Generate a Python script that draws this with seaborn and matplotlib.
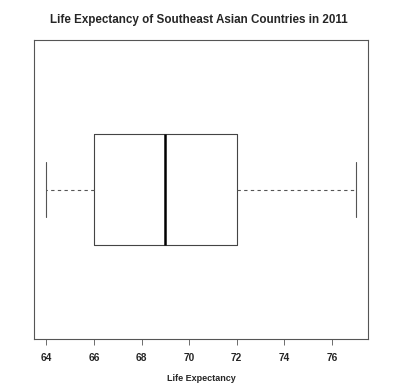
import matplotlib
matplotlib.use("Agg")
import matplotlib.pyplot as plt
import seaborn as sns
import pandas as pd

# Life expectancy values (years) - gives min 64, Q1 66, median 69, Q3 72, max 77
life_expectancy = [64, 65, 66, 68, 69, 70, 72, 74, 77]
x_ticks = [64, 66, 68, 70, 72, 74, 76]

df = pd.DataFrame({"Life Expectancy": life_expectancy})

sns.set_style("white")
plt.rcParams["font.family"] = ["Liberation Sans", "DejaVu Sans"]

fig = plt.figure(figsize=(3.97, 3.90), dpi=100)
ax = fig.add_axes([34 / 397, 51 / 390, 334 / 397, 299 / 390])

sns.boxplot(
    data=df, x="Life Expectancy", orient="h", width=0.4, ax=ax,
    fill=False, color="black", linewidth=0.8,
    whis=1.5,
    whiskerprops=dict(linestyle=(0, (3, 3)), color="#555555", linewidth=0.8),
    capprops=dict(color="#555555", linewidth=0.8),
    boxprops=dict(color="#444444", linewidth=0.8),
    medianprops=dict(color="black", linewidth=1.8),
    showfliers=False,
)

ax.set_xlim(63.48, 77.52)
ax.set_ylim(0.54, -0.54)
ax.set_yticks([])
ax.set_xticks(x_ticks)
ax.set_xticklabels([str(t) for t in x_ticks], fontsize=7.3, fontweight="bold")
ax.tick_params(axis="x", direction="out", length=4, width=0.6, color="#555555", pad=6, bottom=True)
for s in ax.spines.values():
    s.set_color("#555555")
    s.set_linewidth(0.8)

ax.set_xlabel("Life Expectancy", fontsize=6.5, fontweight="bold", labelpad=8)
ax.set_ylabel("")
fig.suptitle("Life Expectancy of Southeast Asian Countries in 2011",
             fontsize=8.4, fontweight="bold", y=0.965)

fig.savefig("out.png", dpi=100, facecolor="white")
